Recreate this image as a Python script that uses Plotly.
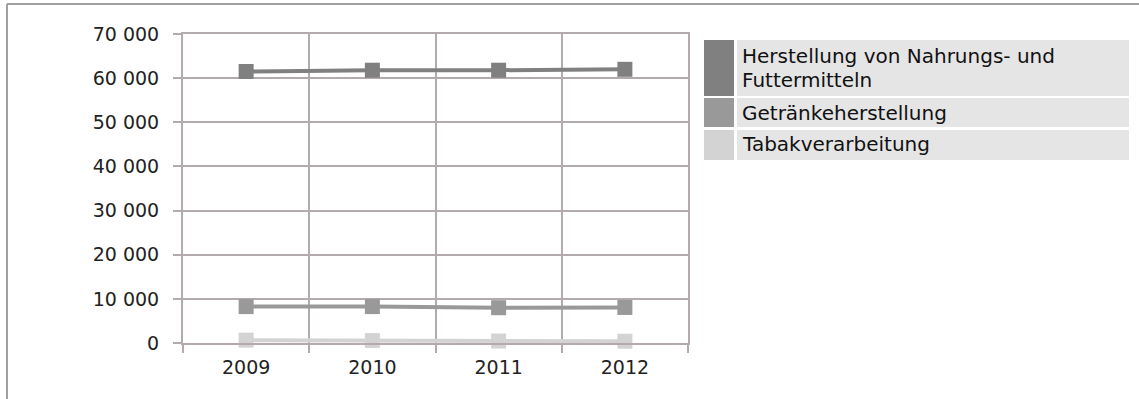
import plotly.graph_objects as go

years = ["2009", "2010", "2011", "2012"]
herstellung = [61500, 61800, 61800, 62000]
getraenke = [8250, 8250, 8000, 8050]
tabak = [650, 550, 450, 400]

series_names = ["Herstellung von Nahrungs- und<br>Futtermitteln", "Getränkeherstellung", "Tabakverarbeitung"]
series_colors = ["#808080", "#999999", "#d3d3d3"]
y_ticks = [0, 10000, 20000, 30000, 40000, 50000, 60000, 70000]

W, H = 1139, 399
L, R, T, B = 183, 451, 34, 56
FONT = "DejaVu Sans"
GRID = "#b3abab"


def px(x):
    return (x - L) / (W - L - R)


def py(y):
    return (H - B - y) / (H - T - B)


fig = go.Figure()
for name, vals, col in zip(series_names, [herstellung, getraenke, tabak], series_colors):
    fig.add_trace(
        go.Scatter(
            x=years,
            y=vals,
            name=name,
            mode="lines+markers",
            line=dict(color=col, width=4),
            marker=dict(symbol="square", size=15, color=col),
            cliponaxis=False,
            showlegend=False,
        )
    )

shapes = [
    # outer frame (top and left)
    dict(type="line", xref="paper", yref="paper", x0=px(7), x1=px(W), y0=py(4), y1=py(4),
         line=dict(color="#a0a0a0", width=2)),
    dict(type="line", xref="paper", yref="paper", x0=px(7), x1=px(7), y0=py(4), y1=py(H),
         line=dict(color="#a0a0a0", width=2)),
]
annotations = []

# legend drawn as table rows
rows = [(40, 96), (98, 127), (130, 160)]
row_lines = [
    [("Herstellung von Nahrungs- und", 56), ("Futtermitteln", 80)],
    [("Getränkeherstellung", 112.5)],
    [("Tabakverarbeitung", 143.5)],
]
for (y0, y1), col, lines in zip(rows, series_colors, row_lines):
    shapes.append(dict(type="rect", xref="paper", yref="paper", x0=px(704), x1=px(734),
                       y0=py(y1), y1=py(y0), fillcolor=col, line=dict(width=0)))
    shapes.append(dict(type="rect", xref="paper", yref="paper", x0=px(737), x1=px(1129),
                       y0=py(y1), y1=py(y0), fillcolor="#e5e5e5", line=dict(width=0)))
    for text, yc in lines:
        annotations.append(dict(xref="paper", yref="paper", x=px(740), y=py(yc), text=text,
                                showarrow=False, xanchor="left", yanchor="middle",
                                font=dict(family=FONT, size=20, color="#111111")))

fig.update_layout(
    width=W,
    height=H,
    margin=dict(l=L, r=R, t=T, b=B),
    paper_bgcolor="white",
    plot_bgcolor="white",
    separators=", ",
    font=dict(family=FONT, size=19, color="#222222"),
    shapes=shapes,
    annotations=annotations,
    xaxis=dict(
        type="category",
        range=[-0.5, 3.5],
        tickson="boundaries",
        showgrid=True,
        gridcolor=GRID,
        gridwidth=2,
        showline=True,
        linecolor=GRID,
        linewidth=2,
        mirror=True,
        ticks="outside",
        ticklen=8,
        tickwidth=2,
        tickcolor=GRID,
        ticklabelstandoff=6,
    ),
    yaxis=dict(
        range=[0, 70000],
        tickvals=y_ticks,
        tickformat=",d",
        showgrid=True,
        gridcolor=GRID,
        gridwidth=2,
        zeroline=False,
        showline=True,
        linecolor=GRID,
        linewidth=2,
        mirror=True,
        ticks="outside",
        ticklen=8,
        tickwidth=2,
        tickcolor=GRID,
        ticklabelstandoff=10,
    ),
)

fig.write_html(
    "out.html",
    config={"displayModeBar": False},
    post_script="document.body.style.margin='0';",
)
